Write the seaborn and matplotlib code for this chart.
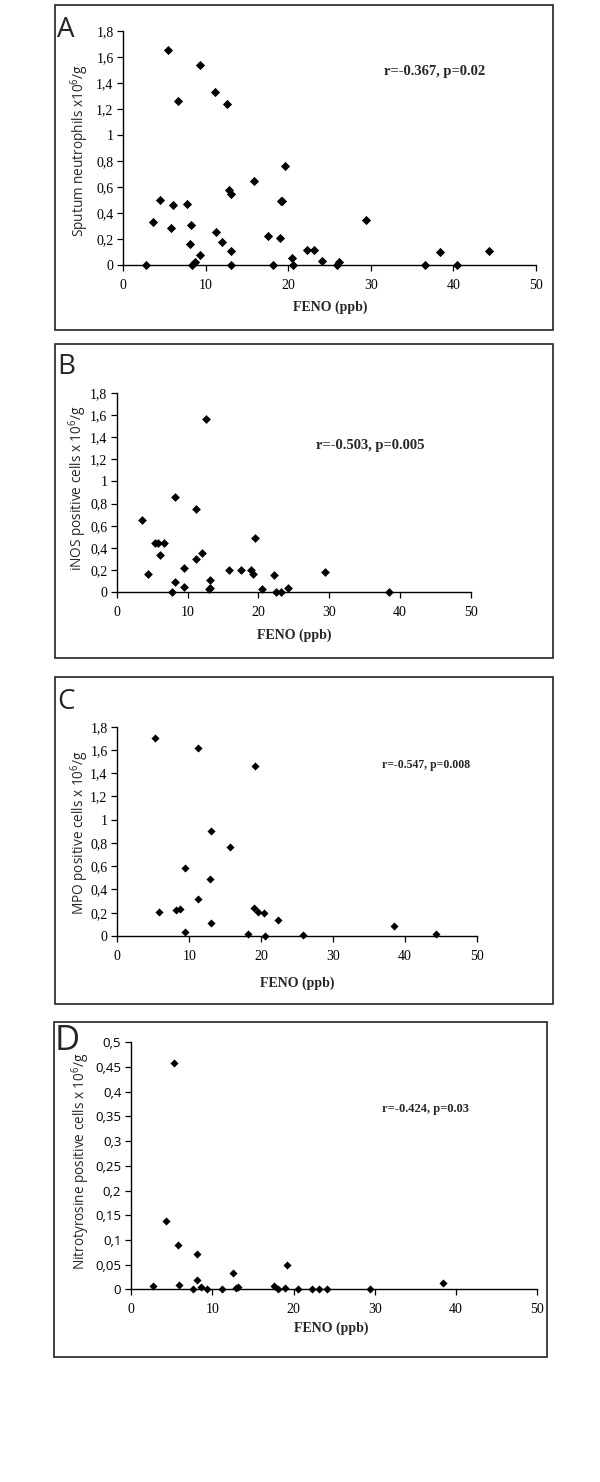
import numpy as np
import pandas as pd
import matplotlib
matplotlib.use("Agg")
import matplotlib.pyplot as plt
from matplotlib.patches import Rectangle
import seaborn as sns

# values
# A: sputum neutrophils (x10^6/g) vs FENO
feno_a = [2.7, 3.55, 4.44, 5.41, 5.78, 5.98, 6.62, 7.71, 8.08, 8.2, 8.36, 8.68, 9.33,
          9.29, 11.15, 11.27, 11.99, 12.6, 12.8, 13.09, 13.1, 13.1, 15.79, 17.49, 18.13,
          18.98, 19.06, 19.22, 19.59, 20.48, 20.56, 22.29, 23.14, 24.11, 25.85, 26.09,
          29.36, 36.55, 38.41, 40.39, 44.35]
neut_a = [0, 0.33, 0.50, 1.65, 0.284, 0.458, 1.26, 0.466, 0.164, 0.307, 0, 0.02, 0.074,
          1.54, 1.326, 0.253, 0.179, 1.237, 0.579, 0.543, 0.105, 0, 0.648, 0.223, 0,
          0.207, 0.489, 0.494, 0.76, 0.051, 0, 0.118, 0.113, 0.031, 0, 0.026,
          0.346, 0, 0.097, 0, 0.105]

# B: iNOS positive cells
feno_b = [3.58, 4.43, 5.33, 5.75, 6.13, 6.64, 7.78, 8.2, 8.2, 9.43, 9.47, 11.12, 11.22,
          11.97, 12.54, 12.96, 13.1, 13.2, 15.88, 17.58, 18.99, 19.27, 19.51, 20.5,
          22.24, 22.43, 23.19, 24.13, 29.45, 38.4]
inos_b = [0.652, 0.165, 0.448, 0.448, 0.337, 0.448, 0, 0.856, 0.09, 0.222, 0.051, 0.751,
          0.303, 0.352, 1.56, 0.03, 0.036, 0.108, 0.198, 0.198, 0.198, 0.168, 0.493,
          0.027, 0.153, 0, 0, 0.036, 0.18, 0]

# C: MPO positive cells
feno_c = [5.24, 5.8, 8.21, 8.72, 9.37, 9.42, 11.18, 11.18, 12.85, 13.08, 13.08, 15.72,
          18.14, 18.97, 19.2, 19.57, 20.41, 20.5, 22.31, 25.79, 38.54, 44.39]
mpo_c = [1.70, 0.209, 0.226, 0.235, 0.582, 0.037, 1.617, 0.315, 0.487, 0.903, 0.112,
         0.768, 0.017, 0.244, 1.459, 0.203, 0.195, 0, 0.14, 0.009, 0.083, 0.02]

# D: nitrotyrosine positive cells
feno_d = [2.67, 4.35, 5.29, 5.82, 5.95, 7.63, 8.16, 8.08, 8.61, 9.39, 11.2, 12.55, 12.92,
          13.13, 17.56, 18.05, 18.95, 19.15, 20.55, 22.31, 23.13, 24.08, 29.41, 38.43]
nitro_d = [0.006, 0.138, 0.459, 0.089, 0.008, 0, 0.0715, 0.018, 0.005, 0, 0, 0.033,
           0.003, 0.005, 0.006, 0, 0.003, 0.0486, 0.001, 0.001, 0, 0, 0.001, 0.0135]

xticks = [0, 10, 20, 30, 40, 50]
yticks_18 = [0, 0.2, 0.4, 0.6, 0.8, 1.0, 1.2, 1.4, 1.6, 1.8]
ylabels_18 = ["0", "0,2", "0,4", "0,6", "0,8", "1", "1,2", "1,4", "1,6", "1,8"]
yticks_05 = [0, 0.05, 0.1, 0.15, 0.2, 0.25, 0.3, 0.35, 0.4, 0.45, 0.5]
ylabels_05 = ["0", "0,05", "0,1", "0,15", "0,2", "0,25", "0,3", "0,35", "0,4", "0,45", "0,5"]

sns.set_style("white")
plt.rcParams["font.family"] = ["Liberation Serif", "DejaVu Serif"]
plt.rcParams["mathtext.fontset"] = "custom"
plt.rcParams["mathtext.rm"] = "Open Sans"
plt.rcParams["mathtext.it"] = "Open Sans:italic"
plt.rcParams["mathtext.bf"] = "Open Sans:bold"

W, H = 600, 1482
fig = plt.figure(figsize=(6, 14.82), dpi=100)
fig.patch.set_facecolor("white")


def px_box(x0, y0, x1, y1):
    return [x0 / W, 1 - y1 / H, (x1 - x0) / W, (y1 - y0) / H]


def ftext(x, y, s, **kw):
    fig.text(x / W, 1 - y / H, s, **kw)


SANS = ["Open Sans", "DejaVu Sans"]

panels = [
    dict(letter="A", frame=(55, 5, 553, 330), axes=(123.3, 30.7, 536, 265),
         x=feno_a, y=neut_a, yt=yticks_18, yl=ylabels_18, top=1.8,
         ylab=r"Sputum neutrophils x10$\mathregular{^6}$/g", ylab_pos=(80, 150),
         note="r=-0.367, p=0.02", note_pos=(435, 72), note_size=10.5,
         xlab_pos=(330, 307), letter_pos=(57, 16), letter_size=20, s=22,
         ysans=False),
    dict(letter="B", frame=(55, 344, 553, 658), axes=(117, 392.7, 470.7, 592.3),
         x=feno_b, y=inos_b, yt=yticks_18, yl=ylabels_18, top=1.8,
         ylab=r"iNOS positive cells x 10$\mathregular{^6}$/g", ylab_pos=(78, 488),
         note="r=-0.503, p=0.005", note_pos=(370, 446), note_size=10.5,
         xlab_pos=(294, 635), letter_pos=(57, 353), letter_size=20, s=20,
         ysans=False),
    dict(letter="C", frame=(55, 677, 553, 1004), axes=(117.3, 726.7, 476.7, 936),
         x=feno_c, y=mpo_c, yt=yticks_18, yl=ylabels_18, top=1.8,
         ylab=r"MPO positive cells x 10$\mathregular{^6}$/g", ylab_pos=(80, 833),
         note="r=-0.547, p=0.008", note_pos=(426, 765), note_size=8.5,
         xlab_pos=(297, 983), letter_pos=(57, 688), letter_size=20, s=17,
         ysans=False),
    dict(letter="D", frame=(54, 1022, 547, 1357), axes=(131, 1042.3, 537.3, 1289.3),
         x=feno_d, y=nitro_d, yt=yticks_05, yl=ylabels_05, top=0.5,
         ylab=r"Nitrotyrosine positive cells x 10$\mathregular{^6}$/g", ylab_pos=(81, 1161),
         note="r=-0.424, p=0.03", note_pos=(426, 1109), note_size=9,
         xlab_pos=(331, 1328), letter_pos=(55, 1024), letter_size=25, s=17,
         ysans=True),
]

for p in panels:
    x0, y0, x1, y1 = p["frame"]
    fig.add_artist(Rectangle((x0 / W, 1 - y1 / H), (x1 - x0) / W, (y1 - y0) / H,
                             transform=fig.transFigure, fill=False,
                             edgecolor="#222222", linewidth=1.2))

    ax = fig.add_axes(px_box(*p["axes"]))
    ax.set_facecolor("none")
    df = pd.DataFrame({"feno": p["x"], "val": p["y"]})
    sns.scatterplot(data=df, x="feno", y="val", marker="D", color="black",
                    s=p["s"], linewidth=0, clip_on=False, zorder=5, ax=ax)

    ax.set_xlim(0, 50)
    ax.set_ylim(0, p["top"])
    ax.set_xticks(xticks)
    ax.set_yticks(p["yt"], p["yl"])
    ax.set_xlabel("")
    ax.set_ylabel("")
    for side in ["top", "right"]:
        ax.spines[side].set_visible(False)
    for side in ["left", "bottom"]:
        ax.spines[side].set_color("black")
        ax.spines[side].set_linewidth(1.0)
    ax.tick_params(axis="both", direction="out", length=4, width=0.9, color="black",
                   labelcolor="black", bottom=True, left=True)
    ax.tick_params(axis="x", labelsize=10, pad=6)
    if p["ysans"]:
        ax.tick_params(axis="y", labelsize=9.5, pad=3)
        for lab in ax.get_yticklabels():
            lab.set_family(SANS)
    else:
        ax.tick_params(axis="y", labelsize=10, pad=3)

    ftext(*p["ylab_pos"], p["ylab"], rotation=90, ha="center", va="center",
          fontsize=9.8, family=SANS)
    ftext(*p["note_pos"], p["note"], ha="center", va="center",
          fontsize=p["note_size"], fontweight="bold")
    ftext(*p["xlab_pos"], "FENO (ppb)", ha="center", va="center",
          fontsize=10, fontweight="bold")
    ftext(*p["letter_pos"], p["letter"], ha="left", va="top",
          fontsize=p["letter_size"], family=SANS)

fig.savefig("out.png", dpi=100, facecolor="white")
